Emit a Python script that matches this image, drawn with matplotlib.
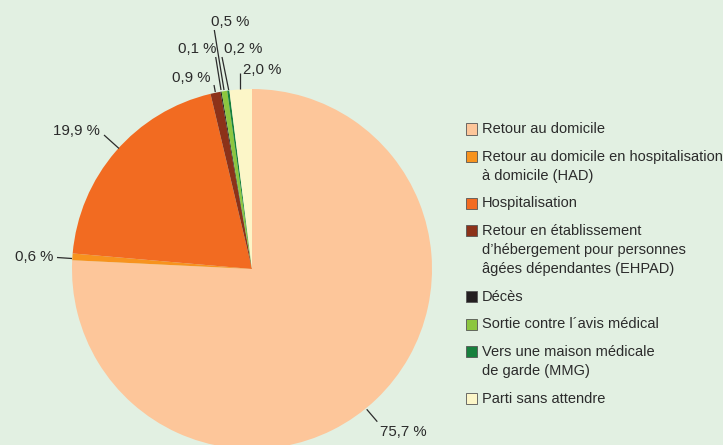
import matplotlib
matplotlib.use("Agg")
import matplotlib.pyplot as plt
from matplotlib.patches import Rectangle
from matplotlib import font_manager

categories = [
    "Retour au domicile",
    "Retour au domicile en hospitalisation\nà domicile (HAD)",
    "Hospitalisation",
    "Retour en établissement\nd\u2019hébergement pour personnes\nâgées dépendantes (EHPAD)",
    "Décès",
    "Sortie contre l\u00b4avis médical",
    "Vers une maison médicale\nde garde (MMG)",
    "Parti sans attendre",
]
values = [75.7, 0.6, 19.9, 0.9, 0.1, 0.5, 0.2, 2.0]
value_labels = ["75,7 %", "0,6 %", "19,9 %", "0,9 %", "0,1 %", "0,5 %", "0,2 %", "2,0 %"]
colors = ["#fdc69a", "#f7931e", "#f26b21", "#8c3219", "#231f20", "#8cc63f", "#17803d", "#fcf6c8"]

names = {f.name for f in font_manager.fontManager.ttflist}
fam = "Liberation Sans Narrow" if "Liberation Sans Narrow" in names else "Liberation Sans"
plt.rcParams["font.family"] = [fam, "DejaVu Sans"]
FS = 11.5 if fam == "Liberation Sans Narrow" else 10.8
LFS = 11.5 if fam == "Liberation Sans Narrow" else 10.5

W, H = 723, 445
CX, CY, R = 252, 269, 180
fig = plt.figure(figsize=(W / 100, H / 100), dpi=100)
bg = "#e2f0e2"
fig.patch.set_facecolor(bg)
ax = fig.add_axes([0, 0, 1, 1])
ax.set_facecolor(bg)

wedges, _ = ax.pie(values, colors=colors, startangle=90, counterclock=False,
                   radius=1.0, center=(0, 0), wedgeprops=dict(linewidth=0))
ax.set_xlim(-CX / R, (W - CX) / R)
ax.set_ylim((CY - H) / R, CY / R)
ax.set_aspect("auto")
ax.set_axis_off()

def d(px, py):
    return ((px - CX) / R, (CY - py) / R)

# (inner point, outer point, text centre) in pixel layout
label_layout = [
    ((366.7, 409.3), (377.3, 421.7), (403, 432)),
    ((72, 258.5), (57, 257.5), (34.5, 257)),
    ((119, 148.5), (104, 135), (76.5, 131)),
    ((215.3, 92), (214, 85), (191.5, 78)),
    ((221, 90), (215.7, 57), (197, 49)),
    ((224, 90), (214.3, 30), (230, 22)),
    ((228.7, 90), (222, 57), (243, 49)),
    ((240, 89), (240, 73), (262, 70)),
]
tc = "#2b2b2b"
for lab, (pin, pout, ptxt) in zip(value_labels, label_layout):
    a, b = d(*pin), d(*pout)
    ax.plot([a[0], b[0]], [a[1], b[1]], color=tc, lw=0.9, solid_capstyle="butt")
    t = d(*ptxt)
    ax.text(t[0], t[1], lab, ha="center", va="center", fontsize=FS, color=tc)

# legend
y = 129
sq = 11
for cat, col in zip(categories, colors):
    lines = cat.split("\n")
    fig.patches.append(Rectangle((466 / W, 1 - (y + sq / 2) / H), sq / W, sq / H,
                                 transform=fig.transFigure, facecolor=col,
                                 edgecolor="#555555", linewidth=0.6))
    for i, line in enumerate(lines):
        fig.text(482 / W, 1 - (y + i * 19.3) / H, line, ha="left", va="center",
                 fontsize=LFS, color=tc)
    y += (len(lines) - 1) * 19.3 + 27.5

fig.savefig("out.png", dpi=100, facecolor=bg)
